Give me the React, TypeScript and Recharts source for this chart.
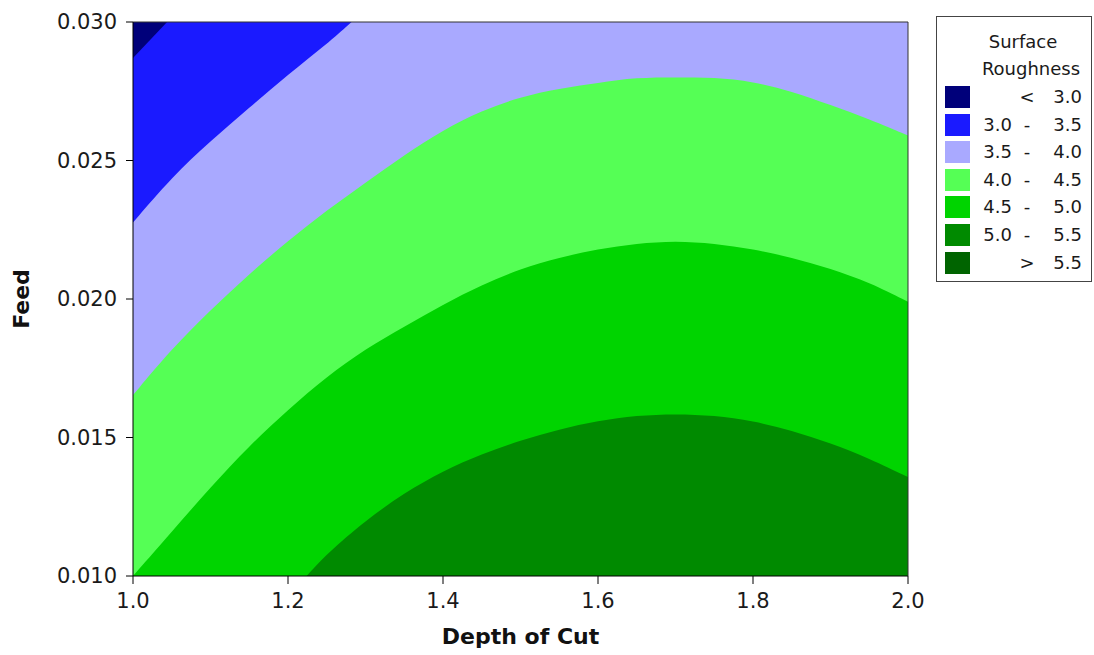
import React from 'react';
import { AreaChart, Area, XAxis, YAxis, CartesianGrid, Legend } from 'recharts';

const DEPTH = [1.0, 1.044, 1.05, 1.1, 1.15, 1.2, 1.224, 1.25, 1.282, 1.3, 1.35, 1.4, 1.45, 1.5, 1.55, 1.6, 1.65, 1.7, 1.75, 1.8, 1.85, 1.9, 1.95, 2.0];

// feed of each contour line (null = line is outside the plot there)
const LINE_30 = [0.0287, 0.030, null, null, null, null, null, null, null, null, null, null, null, null, null, null, null, null, null, null, null, null, null, null];
const LINE_35 = [0.02276, null, 0.0244, 0.0257, 0.0269, 0.0281, null, 0.0292, 0.030, null, null, null, null, null, null, null, null, null, null, null, null, null, null, null];
const LINE_40 = [0.01653, null, 0.0182, 0.0196, 0.0209, 0.0221, null, 0.0232, null, 0.0242, 0.0252, 0.0261, 0.0268, 0.0273, 0.0276, 0.0278, 0.0280, 0.0280, 0.0280, 0.02785, 0.0275, 0.0270, 0.0265, 0.0259];
const LINE_45 = [0.0100, null, 0.0116, 0.0132, 0.0147, 0.0160, null, 0.0172, null, 0.0182, 0.0190, 0.0198, 0.0205, 0.0211, 0.0215, 0.0218, 0.0220, 0.0221, 0.0220, 0.0218, 0.0215, 0.0211, 0.0206, 0.0199];
const LINE_50 = [null, null, null, null, null, null, 0.0100, 0.0108, null, 0.0120, 0.0130, 0.0138, 0.0144, 0.0149, 0.0153, 0.0156, 0.0158, 0.01585, 0.0158, 0.0156, 0.01525, 0.0148, 0.01425, 0.01357];

const X_TICKS = [1.0, 1.2, 1.4, 1.6, 1.8, 2.0];
const Y_TICKS = [0.010, 0.015, 0.020, 0.025, 0.030];

const LEVEL_LOW = ['', '3.0', '3.5', '4.0', '4.5', '5.0', ''];
const LEVEL_SIGN = ['<', '-', '-', '-', '-', '-', '>'];
const LEVEL_HIGH = ['3.0', '3.5', '4.0', '4.5', '5.0', '5.5', '5.5'];
const LEVEL_COLORS = ['#00007a', '#1a1aff', '#a9a9ff', '#55ff55', '#00d400', '#008a00', '#006400'];

const data = DEPTH.map((d, i) => ({
  depth: d,
  l30: LINE_30[i],
  l35: LINE_35[i],
  l40: LINE_40[i],
  l45: LINE_45[i],
  l50: LINE_50[i],
}));

const FONT = '"DejaVu Sans", Verdana, sans-serif';

const RoughnessLegend = () => (
  <div
    style={{
      position: 'relative',
      width: 156,
      height: 266,
      border: '1px solid #444',
      boxSizing: 'border-box',
      background: '#fff',
      fontFamily: FONT,
      fontSize: 18,
      color: '#1a1a1a',
    }}
  >
    <div style={{ position: 'absolute', left: 22, width: 128, top: 11, lineHeight: '27px', textAlign: 'center' }}>Surface</div>
    <div style={{ position: 'absolute', left: 30, width: 128, top: 38, lineHeight: '27px', textAlign: 'center' }}>Roughness</div>
    {LEVEL_COLORS.map((c, i) => {
      const cy = 80 + i * 27.6;
      return (
        <React.Fragment key={i}>
          <div style={{ position: 'absolute', left: 8, top: cy - 11, width: 25, height: 22, background: c }} />
          <div style={{ position: 'absolute', right: 156 - 77, top: cy - 13, lineHeight: '26px' }}>{LEVEL_LOW[i]}</div>
          <div style={{ position: 'absolute', left: 80, width: 20, textAlign: 'center', top: cy - 13, lineHeight: '26px' }}>{LEVEL_SIGN[i]}</div>
          <div style={{ position: 'absolute', right: 9, top: cy - 13, lineHeight: '26px' }}>{LEVEL_HIGH[i]}</div>
        </React.Fragment>
      );
    })}
  </div>
);

export default function App() {
  return (
    <div style={{ position: 'absolute', left: 0, top: 0, width: 1094, height: 655, background: '#fff' }}>
      <AreaChart width={1094} height={655} data={data} margin={{ top: 21, right: 185, bottom: 0, left: 0 }}>
        <CartesianGrid horizontal={false} vertical={false} fill={LEVEL_COLORS[2]} fillOpacity={1} />
        <XAxis
          dataKey="depth"
          type="number"
          domain={[1, 2]}
          ticks={X_TICKS}
          tickFormatter={(v: number) => v.toFixed(1)}
          height={79}
          tickSize={8}
          tickMargin={9}
          stroke="#000"
          tick={{ fill: '#1a1a1a', fontSize: 21, fontFamily: FONT }}
          label={{ value: 'Depth of Cut', position: 'insideBottom', offset: 11, style: { fontFamily: FONT, fontSize: 22, fontWeight: 'bold', fill: '#111' } }}
        />
        <XAxis xAxisId="top" orientation="top" type="number" domain={[1, 2]} tick={false} tickLine={false} height={1} stroke="#333" />
        <YAxis
          type="number"
          domain={[0.01, 0.03]}
          ticks={Y_TICKS}
          tickFormatter={(v: number) => v.toFixed(3)}
          width={133}
          tickSize={7}
          tickMargin={9}
          stroke="#000"
          tick={{ fill: '#1a1a1a', fontSize: 21, fontFamily: FONT }}
          label={{ value: 'Feed', angle: -90, position: 'insideLeft', offset: 21, style: { textAnchor: 'middle', fontFamily: FONT, fontSize: 22, fontWeight: 'bold', fill: '#111' } }}
        />
        <YAxis yAxisId="right" orientation="right" type="number" domain={[0.01, 0.03]} tick={false} tickLine={false} width={1} stroke="#333" />

        {/* areas above the 3.5 and 3.0 lines fill up to the top */}
        <Area type="basis" dataKey="l35" baseValue="dataMax" fill={LEVEL_COLORS[1]} fillOpacity={1} stroke="none" connectNulls dot={false} activeDot={false} isAnimationActive={false} />
        <Area type="linear" dataKey="l30" baseValue="dataMax" fill={LEVEL_COLORS[0]} fillOpacity={1} stroke="none" connectNulls dot={false} activeDot={false} isAnimationActive={false} />
        {/* areas below the 4.0, 4.5 and 5.0 lines fill down to the bottom */}
        <Area type="basis" dataKey="l40" baseValue="dataMin" fill={LEVEL_COLORS[3]} fillOpacity={1} stroke="none" connectNulls dot={false} activeDot={false} isAnimationActive={false} />
        <Area type="basis" dataKey="l45" baseValue="dataMin" fill={LEVEL_COLORS[4]} fillOpacity={1} stroke="none" connectNulls dot={false} activeDot={false} isAnimationActive={false} />
        <Area type="basis" dataKey="l50" baseValue="dataMin" fill={LEVEL_COLORS[5]} fillOpacity={1} stroke="none" connectNulls dot={false} activeDot={false} isAnimationActive={false} />

        <Legend
          layout="vertical"
          align="center"
          verticalAlign="middle"
          content={() => <RoughnessLegend />}
          wrapperStyle={{ position: 'absolute', left: 936, top: 16, width: 156, height: 266 }}
        />
      </AreaChart>
    </div>
  );
}
